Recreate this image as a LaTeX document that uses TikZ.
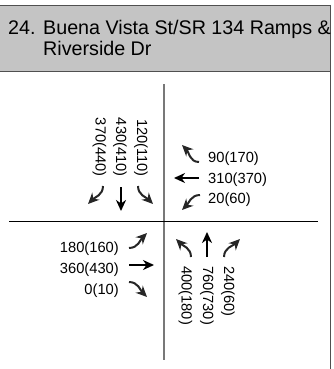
\documentclass[tikz,border=0pt]{standalone}
\usepackage{fontspec}
\setmainfont{Liberation Sans}
\usepackage{tikz}
\usetikzlibrary{arrows.meta}

\definecolor{headgray}{RGB}{196,196,196}
\definecolor{framegray}{RGB}{80,80,80}
\definecolor{roadgray}{RGB}{120,120,120}

\tikzset{
  mv/.style={line width=2pt,-{Stealth[length=11pt,width=10pt,inset=3.5pt]}},
  turn/.style={mv,black!85},
  vol/.style={inner sep=0pt,font=\fontsize{14.7pt}{17pt}\selectfont},
  title/.style={inner sep=0pt,anchor=base west,font=\fontsize{19.7pt}{21pt}\selectfont}
}

\begin{document}
\begin{tikzpicture}[x=1pt,y=-1pt]
      \useasboundingbox (0,0) rectangle (334,369);
      \fill[headgray] (0,5) rectangle (330.5,71);
      \draw[framegray,line width=0.8pt] (0,5) -- (330.5,5);
      \draw[framegray,line width=0.8pt] (0,71) -- (330.5,71);
      \draw[framegray,line width=1.2pt] (330.5,5) -- (330.5,369);

      \node[title] (num) at (8,35) {24.};
      \node[title] (name1) at (43,35) {Buena Vista St/SR 134 Ramps \&};
      \node[title] (name2) at (43,56) {Riverside Dr};

      \draw[roadgray,line width=1.3pt] (164,84) -- (164,360);
      \draw[line width=0.8pt] (9,221.5) -- (318,221.5);

      % southbound
      \node[vol,rotate=-90,anchor=east] (sbr) at (99.5,177) {370(440)};
      \node[vol,rotate=-90,anchor=east] (sbt) at (120,177) {430(410)};
      \node[vol,rotate=-90,anchor=east] (sbl) at (141,177) {120(110)};
      \draw[turn] (103,186) to[out=-90,in=45] (88,204);
      \draw[mv] (121,187) -- (121,211);
      \draw[turn] (138,186) to[out=-90,in=135] (153,204);

      % westbound
      \node[vol,anchor=base west] (wbr) at (208,162) {90(170)};
      \node[vol,anchor=base west] (wbt) at (208,183) {310(370)};
      \node[vol,anchor=base west] (wbl) at (208,203) {20(60)};
      \draw[turn] (199,162) to[out=180,in=-45] (182,145);
      \draw[mv] (199,178) -- (174,178);
      \draw[turn] (200,195) to[out=180,in=45] (182,210);

      % eastbound
      \node[vol,anchor=base east] (ebl) at (119,252) {180(160)};
      \node[vol,anchor=base east] (ebt) at (119,273) {360(430)};
      \node[vol,anchor=base east] (ebr) at (119,294) {0(10)};
      \draw[turn] (129,248) to[out=0,in=-135] (147,233);
      \draw[mv] (129,265) -- (154,265);
      \draw[turn] (129,282) to[out=0,in=135] (147,297);

      % northbound
      \node[vol,rotate=-90,anchor=west] (nbl) at (185.5,266) {400(180)};
      \node[vol,rotate=-90,anchor=west] (nbt) at (207,266) {760(730)};
      \node[vol,rotate=-90,anchor=west] (nbr) at (228,266) {240(60)};
      \draw[turn] (191,257) to[out=90,in=-45] (176,239);
      \draw[mv] (207,257) -- (207,232);
      \draw[turn] (224,257) to[out=90,in=-135] (240,239);
\end{tikzpicture}
\end{document}
